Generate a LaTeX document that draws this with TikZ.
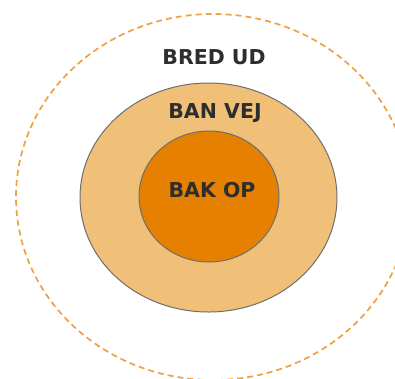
\documentclass[tikz,border=0pt]{standalone}
\usepackage{fontspec}
\setmainfont{DejaVu Sans}
\usetikzlibrary{shapes.geometric}
\definecolor{ringline}{HTML}{F0A040}
\definecolor{midfill}{HTML}{F0C078}
\definecolor{corefill}{HTML}{E68000}
\definecolor{edgegray}{HTML}{6E6E6E}
\definecolor{labelgray}{HTML}{2E2E2E}
\begin{document}
\begin{tikzpicture}[x=1pt,y=-1pt,
    zone/.style={ellipse,inner sep=0,outer sep=0},
    zonelabel/.style={font=\fontsize{20.5}{24}\selectfont\bfseries,text=labelgray,inner sep=0}]
      \useasboundingbox (0,0) rectangle (395,378);
      % outer ring, dashed
      \node[zone,draw=ringline,line width=1.7pt,dash pattern=on 6pt off 4pt,
        minimum width=394pt,minimum height=366pt] (outer) at (213,197) {};
      \node[zone,draw=edgegray,fill=midfill,line width=1pt,
        minimum width=257pt,minimum height=229pt] (mid) at (208.5,197.5) {};
      \node[zone,draw=edgegray,fill=corefill,line width=1pt,
        minimum width=140pt,minimum height=131pt] (core) at (209,196.5) {};
      \node[zonelabel] (bred) at (214,57) {BRED UD};
      \node[zonelabel] (ban) at (215,113) {BAN VEJ};
      \node[zonelabel] (bak) at (212,190) {BAK OP};
    \end{tikzpicture}
\end{document}
